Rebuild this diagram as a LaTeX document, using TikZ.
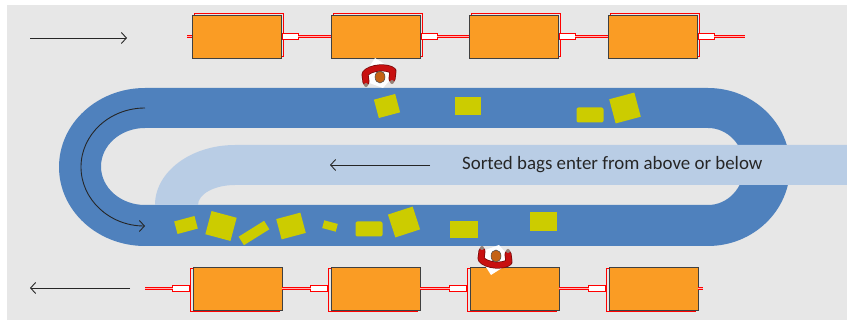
\documentclass[tikz,border=0pt]{standalone}
\usepackage{fontspec}
\setmainfont{Carlito}
\usetikzlibrary{arrows.meta,calc}

\definecolor{bgc}{RGB}{231,231,231}
\definecolor{beltc}{RGB}{79,129,189}
\definecolor{feedc}{RGB}{185,205,229}
\definecolor{cartc}{RGB}{250,156,36}
\definecolor{bagc}{RGB}{204,204,0}
\definecolor{jacket}{RGB}{200,16,16}
\definecolor{jacketdark}{RGB}{120,10,10}
\definecolor{skin}{RGB}{196,98,20}
\definecolor{handc}{RGB}{150,130,120}
\definecolor{inkc}{RGB}{38,38,38}

\tikzset{
  cart/.style={draw=black!75, line width=0.8pt, fill=cartc,
    minimum width=89pt, minimum height=43pt, inner sep=0pt},
  cartred/.style={draw=red, line width=0.9pt,
    minimum width=89pt, minimum height=43pt, inner sep=0pt},
  hitchbox/.style={draw=red, fill=white, line width=1pt},
  towbar/.style={draw=red, line width=0.8pt, double=red!30, double distance=1.2pt},
  flow/.style={draw=black!85, line width=0.9pt, -{Straight Barb[length=5pt,width=11pt]}},
  bag/.style={fill=bagc, inner sep=0pt},
  worker/.pic={
    \fill[white] (-5,-20) -- (17,-6) -- (3,10) -- (-19,2) -- cycle;
    \draw[jacketdark, line width=7pt, line cap=round, line join=round]
      (-14,4) -- (-15,-4) .. controls (-10,-11) and (8,-12) .. (13,-7) -- (12,1);
    \draw[jacket, line width=5.5pt, line cap=round, line join=round]
      (-14,4) -- (-15,-4) .. controls (-10,-11) and (8,-12) .. (13,-7) -- (12,1);
    \fill[handc] (-14,7) circle (2);
    \fill[handc] (12,4) circle (2);
    \draw[black!70, fill=skin, line width=0.5pt] (0,-1) ellipse [x radius=5, y radius=6];
  }
}

% wagon: name, centre, red outline shift x, shift y
\newcommand\wagon[4]{%
  \node[cartred, xshift=#3, yshift=#4] at (#2) {};
  \node[cart] (#1) at (#2) {};}

\begin{document}
\begin{tikzpicture}[x=1pt, y=-1pt]
  \useasboundingbox (0,0) rectangle (847,320);
  \fill[white] (0,0) rectangle (847,320);
  \fill[bgc] (7,5) rectangle (847,320);

  % loop belt
  \fill[beltc, even odd rule]
    (145,88) -- (708,88) arc[start angle=-90, end angle=90, x radius=82, y radius=79]
    -- (145,246) arc[start angle=90, end angle=270, x radius=86, y radius=79] -- cycle
    (145,128) -- (708,128) arc[start angle=-90, end angle=90, x radius=36, y radius=38.5]
    -- (145,205) arc[start angle=90, end angle=270, x radius=44, y radius=38.5] -- cycle;

  % feed belt
  \fill[feedc] (847,145) -- (235,145)
    arc[start angle=270, end angle=180, x radius=80, y radius=60]
    -- (198,205) arc[start angle=180, end angle=270, x radius=37, y radius=20]
    -- (847,185) -- cycle;

  \node[anchor=west, text=inkc, font=\fontsize{18.9}{22}\selectfont, inner sep=0pt]
    (feedlabel) at (462,165) {Sorted bags enter from above or below};
  \coordinate (feedS) at (430,165);
  \coordinate (feedE) at (330,165);
  \draw[flow] (feedS) -- (feedE);

  % direction of travel
  \coordinate (inS) at (30,38);
  \coordinate (inE) at (127,38);
  \draw[flow] (inS) -- (inE);
  \coordinate (outS) at (130,288);
  \coordinate (outE) at (30,288);
  \draw[flow] (outS) -- (outE);
  \coordinate (turnS) at (145,108);
  \draw[flow] (turnS) arc[start angle=-90, end angle=-270, x radius=64, y radius=59];

  % bags on the belt
  \node[bag, minimum width=22pt, minimum height=19pt, rotate=15] (g1) at (387,106) {};
  \node[bag, minimum width=26pt, minimum height=18pt] (g2) at (468,106) {};
  \node[bag, minimum width=27pt, minimum height=15pt, rounded corners=2pt] (g3) at (590,115) {};
  \node[bag, minimum width=26pt, minimum height=25pt, rotate=15] (g4) at (625,108) {};
  \node[bag, minimum width=21pt, minimum height=13pt, rotate=15] (g5) at (186,225) {};
  \node[bag, minimum width=26pt, minimum height=24pt, rotate=-15] (g6) at (221,226) {};
  \node[bag, minimum width=30pt, minimum height=10pt, rotate=32] (g7) at (254,233) {};
  \node[bag, minimum width=25pt, minimum height=21pt, rotate=15] (g8) at (291,226) {};
  \node[bag, minimum width=14pt, minimum height=8pt, rotate=-15] (g9) at (330,226) {};
  \node[bag, minimum width=27pt, minimum height=15pt, rounded corners=2pt] (g10) at (369,229) {};
  \node[bag, minimum width=26pt, minimum height=24pt, rotate=18] (g11) at (404,222) {};
  \node[bag, minimum width=28pt, minimum height=17pt] (g12) at (464,230) {};
  \node[bag, minimum width=27pt, minimum height=19pt] (g13) at (543,222) {};

  % incoming train
  \wagon{u1}{236.5,36.5}{2pt}{1.8pt}
  \wagon{u2}{375.5,36.5}{2pt}{1.8pt}
  \wagon{u3}{513.5,36.5}{2pt}{1.8pt}
  \wagon{u4}{652.5,36.5}{2pt}{1.8pt}
  \coordinate (tailU) at (745,36.5);
  \draw[towbar] (u1.west) -- ++(-5,0);
  \foreach \a/\b in {u1/u2, u2/u3, u3/u4, u4/tailU} {
    \draw[hitchbox] (\a.east) ++(1,-3) rectangle ++(16,6);
    \draw[towbar] ($(\a.east)+(17,0)$) -- (\b);
  }

  % outgoing train
  \wagon{d1}{237.5,288.5}{-2.5pt}{-1.5pt}
  \wagon{d2}{375.5,288.5}{-2.5pt}{-1.5pt}
  \wagon{d3}{514.5,288.5}{-2.5pt}{-1.5pt}
  \wagon{d4}{653.5,288.5}{-2.5pt}{-1.5pt}
  \coordinate (tailD) at (145,288.5);
  \draw[towbar] (d4.east) -- ++(5,0);
  \foreach \a/\b in {d1/tailD, d2/d1.east, d3/d2.east, d4/d3.east} {
    \draw[hitchbox] (\a.west) ++(-3,-3) rectangle ++(-17,6);
    \draw[towbar] ($(\a.west)+(-20,0)$) -- (\b);
  }

  % workers
  \pic (wtop) at (380,78) {worker};
  \pic[yscale=-1] (wbot) at (496,255) {worker};
\end{tikzpicture}
\end{document}
